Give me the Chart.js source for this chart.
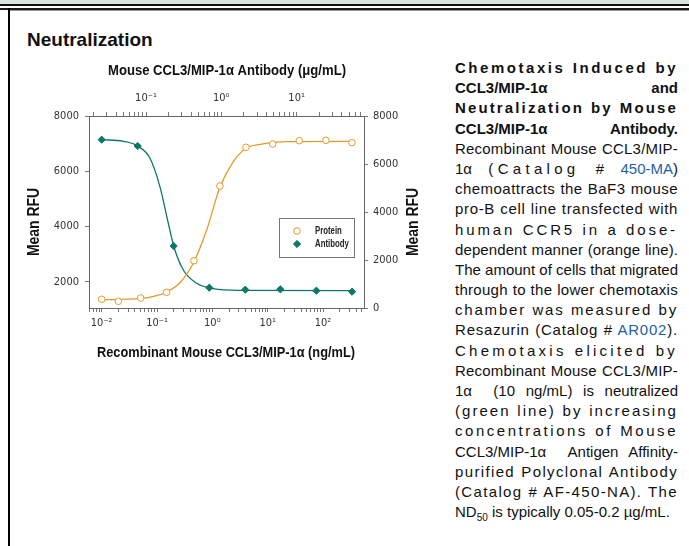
<!DOCTYPE html>
<html><head><meta charset="utf-8">
<script src="https://cdn.jsdelivr.net/npm/chart.js@4.4.1/dist/chart.umd.min.js"></script>
<style>
html,body{margin:0;padding:0;background:#fff;}
body{width:689px;height:546px;position:relative;overflow:hidden;font-family:'Liberation Sans',Arial,sans-serif;}
#band{position:absolute;left:0;top:0;width:689px;height:4px;background:#d8e5e1;}
#l1{position:absolute;left:0;top:4px;width:689px;height:2px;background:#111;}
#l2{position:absolute;left:0;top:8px;width:689px;height:2px;background:#1a1a1a;}
#l3{position:absolute;left:8px;top:10px;width:681px;height:1px;background:#999;}
#lb{position:absolute;left:8px;top:8px;width:2px;height:538px;background:#000;}
#title{position:absolute;left:27px;top:30px;font:bold 19px/19px 'Liberation Sans',Arial,sans-serif;color:#111;white-space:nowrap;}
#wrap{position:absolute;left:0;top:0;width:440px;height:380px;}
#desc{position:absolute;left:455px;top:58px;width:223px;font-size:15px;line-height:20.2px;color:#111;}
#desc .ln{height:20.2px;white-space:nowrap;text-align:justify;text-align-last:justify;}
#desc .b{font-weight:bold;}
#desc .last{text-align:left;text-align-last:left;}
#desc a{color:#1f5fa6;text-decoration:none;}
#desc sub{font-size:10px;vertical-align:-4px;line-height:0;}
</style></head>
<body>
<div id="band"></div><div id="l1"></div><div id="l2"></div><div id="l3"></div><div id="lb"></div>
<div id="title">Neutralization</div>
<div id="wrap"><canvas id="c" width="440" height="380"></canvas></div>
<div id="desc">
<div class="ln b sp">Chemotaxis Induced by</div>
<div class="ln b">CCL3/MIP-1α and</div>
<div class="ln b sp">Neutralization by Mouse</div>
<div class="ln b">CCL3/MIP-1α Antibody.</div>
<div class="ln sp">Recombinant Mouse CCL3/MIP-</div>
<div class="ln">1α <span style="letter-spacing:4.3px">(Catalog</span> # <a>450-MA</a>)</div>
<div class="ln sp">chemoattracts the BaF3 mouse</div>
<div class="ln sp">pro-B cell line transfected with</div>
<div class="ln sp">human CCR5 in a dose-</div>
<div class="ln sp">dependent manner (orange line).</div>
<div class="ln sp">The amount of cells that migrated</div>
<div class="ln sp">through to the lower chemotaxis</div>
<div class="ln sp">chamber was measured by</div>
<div class="ln sp">Resazurin (Catalog # <a>AR002</a>).</div>
<div class="ln sp">Chemotaxis elicited by</div>
<div class="ln sp">Recombinant Mouse CCL3/MIP-</div>
<div class="ln">1α &nbsp;(10 ng/mL) is neutralized</div>
<div class="ln sp">(green line) by increasing</div>
<div class="ln sp">concentrations of Mouse</div>
<div class="ln">CCL3/MIP-1α &nbsp;Antigen Affinity-</div>
<div class="ln sp">purified Polyclonal Antibody</div>
<div class="ln sp">(Catalog # AF-450-NA). The</div>
<div class="ln last">ND<sub>50</sub> is typically 0.05-0.2 µg/mL.</div>
</div>
<script>
// ---- data ----
const seriesNames = ['Protein', 'Antibody'];
const proteinConc = [0.010, 0.020, 0.0507, 0.149, 0.465, 1.37, 4.05, 12.3, 37.2, 113, 333];      // ng/mL
const proteinRFU  = [1365, 1292, 1412, 1618, 2762, 5466, 6867, 6986, 7106, 7120, 7033];
const antibodyConc = [0.0258, 0.0776, 0.233, 0.693, 2.08, 6.08, 18.3, 54.5];                   // µg/mL
const antibodyRFU  = [7013, 6750, 2583, 846, 763, 779, 721, 679];
const proteinFitConc = [0.010, 0.0492, 0.0986, 0.149, 0.260, 0.452, 0.789, 1.37, 2.39, 4.05, 7.24, 22.0, 352];
const proteinFitRFU  = [1350, 1386, 1495, 1629, 1965, 2668, 3873, 5419, 6346, 6831, 6976, 7070, 7084];
const antibodyFitConc = [0.0258, 0.050, 0.0776, 0.113, 0.153, 0.198, 0.233, 0.313, 0.471, 0.783, 1.77, 54.5];
const antibodyFitRFU  = [7013, 6946, 6750, 6237, 5055, 3529, 2583, 1583, 1029, 804, 737, 725];
const leftTicks = [2000, 4000, 6000, 8000];
const rightTicks = [0, 2000, 4000, 6000, 8000];
const bottomDecades = [0.01, 0.1, 1, 10, 100];
const topDecades = [0.1, 1, 10];
const xBottomTitle = 'Recombinant Mouse CCL3/MIP-1α (ng/mL)';
const xTopTitle = 'Mouse CCL3/MIP-1α Antibody (μg/mL)';
const yTitle = 'Mean RFU';

const NARROW = "'Liberation Sans Narrow','DejaVu Sans Condensed','Arial Narrow',sans-serif";
const SANS = "'Liberation Sans',Arial,sans-serif";
const ORANGE = '#e59a2b', TEAL = '#0b7768';
const zip = (xs, ys) => xs.map((x, i) => ({x, y: ys[i]}));
const SUP = {'-': '⁻', '0': '⁰', '1': '¹', '2': '²', '3': '³'};
const powLabel = v => '10' + String(Math.round(Math.log10(v))).split('').map(c => SUP[c]).join('');
const isIn = (v, list) => list.some(d => Math.abs(Math.log10(v) - Math.log10(d)) < 1e-6);
function logTicks(min, max) {
  const t = [];
  for (let e = -4; e <= 4; e++) for (let m = 1; m <= 9; m++) {
    const v = m * Math.pow(10, e);
    if (v >= min && v <= max) t.push({value: v});
  }
  return t;
}
const tickFont = {family: NARROW, size: 11};

// draws text condensed horizontally to a given length (the original uses a condensed face)
function condensedText(ctx, text, cx, cy, len, font, rot) {
  ctx.save();
  ctx.font = font; ctx.fillStyle = '#111'; ctx.textAlign = 'center'; ctx.textBaseline = 'middle';
  ctx.translate(cx, cy); if (rot) ctx.rotate(rot);
  const w = ctx.measureText(text).width;
  ctx.scale(len / w, 1);
  ctx.fillText(text, 0, 0);
  ctx.restore();
}

const overlay = {
  id: 'overlay',
  afterDraw(chart) {
    const {ctx} = chart;
    condensedText(ctx, xTopTitle, 227, 71, 238, 'bold 15.5px ' + SANS);
    condensedText(ctx, xBottomTitle, 226, 353, 258, 'bold 15.5px ' + SANS);
    condensedText(ctx, yTitle, 35, 222, 68, 'bold 16px ' + SANS, -Math.PI / 2);
    condensedText(ctx, yTitle, 414, 222, 68, 'bold 16px ' + SANS, -Math.PI / 2);
    // legend box
    ctx.save();
    ctx.fillStyle = '#fff'; ctx.fillRect(279, 218, 75, 39);
    ctx.strokeStyle = '#777'; ctx.lineWidth = 1; ctx.strokeRect(279.5, 218.5, 75, 39);
    chart.data.datasets.filter(d => d.inLegend).forEach((d, i) => {
      const y = 231 + i * 13;
      ctx.fillStyle = d.pointBackgroundColor; ctx.strokeStyle = d.pointBorderColor; ctx.lineWidth = d.pointBorderWidth;
      Chart.helpers.drawPoint(ctx, {pointStyle: d.pointStyle, radius: d.pointRadius, borderWidth: d.pointBorderWidth, rotation: 0}, 297, y);
      ctx.save();
      ctx.fillStyle = '#222'; ctx.font = 'bold 10px ' + SANS; ctx.textAlign = 'left'; ctx.textBaseline = 'middle';
      ctx.translate(315, y); ctx.scale(0.78, 1); ctx.fillText(d.label, 0, 0);
      ctx.restore();
    });
    ctx.restore();
  }
};

new Chart(document.getElementById('c'), {
  type: 'scatter',
  data: {
    datasets: [
      {label: seriesNames[0], inLegend: true, data: zip(proteinConc, proteinRFU), xAxisID: 'x', yAxisID: 'y',
       pointStyle: 'circle', pointRadius: 3.3, pointBorderWidth: 1, pointBorderColor: ORANGE, pointBackgroundColor: '#fff', showLine: false},
      {label: seriesNames[1], inLegend: true, data: zip(antibodyConc, antibodyRFU), xAxisID: 'x2', yAxisID: 'y2',
       pointStyle: 'rectRot', pointRadius: 3.6, pointBorderWidth: 1, pointBorderColor: TEAL, pointBackgroundColor: TEAL, showLine: false},
      {label: '', data: zip(proteinFitConc, proteinFitRFU), xAxisID: 'x', yAxisID: 'y', showLine: true,
       pointRadius: 0, borderColor: ORANGE, borderWidth: 1.3, cubicInterpolationMode: 'monotone'},
      {label: '', data: zip(antibodyFitConc, antibodyFitRFU), xAxisID: 'x2', yAxisID: 'y2', showLine: true,
       pointRadius: 0, borderColor: TEAL, borderWidth: 1.3, cubicInterpolationMode: 'monotone'}
    ]
  },
  options: {
    responsive: false, animation: false, devicePixelRatio: 1,
    layout: {padding: 0},
    plugins: {legend: {display: false}, tooltip: {enabled: false}},
    scales: {
      x: {type: 'logarithmic', position: 'bottom', min: 0.0059, max: 550,
        afterFit(s) { s.height = 72; },
        afterBuildTicks(s) { s.ticks = logTicks(s.min, s.max); },
        ticks: {autoSkip: false, maxRotation: 0, padding: 5, color: '#333', font: tickFont,
          callback: v => isIn(v, bottomDecades) ? powLabel(v) : ''},
        grid: {drawOnChartArea: false, drawTicks: true, tickLength: 4, color: '#777'},
        border: {display: true, color: '#666'},
        title: {display: false}},
      x2: {type: 'logarithmic', position: 'top', min: 0.0175, max: 78.5,
        afterFit(s) { s.height = 116; },
        afterBuildTicks(s) { s.ticks = logTicks(s.min, s.max); },
        ticks: {autoSkip: false, maxRotation: 0, padding: 7, color: '#333', font: tickFont,
          callback: v => isIn(v, topDecades) ? powLabel(v) : ''},
        grid: {drawOnChartArea: false, drawTicks: true, tickLength: 4, color: '#777'},
        border: {display: true, color: '#666'},
        title: {display: false}},
      y: {type: 'linear', position: 'left', min: 1050, max: 8000,
        afterFit(s) { s.width = 89; },
        afterBuildTicks(s) { s.ticks = leftTicks.map(v => ({value: v})); },
        ticks: {padding: 6, color: '#333', font: tickFont, callback: v => String(v)},
        grid: {drawOnChartArea: false, drawTicks: true, tickLength: 4, color: '#777'},
        border: {display: true, color: '#666'},
        title: {display: false}},
      y2: {type: 'linear', position: 'right', min: 0, max: 8000,
        afterFit(s) { s.width = 76; },
        afterBuildTicks(s) { s.ticks = rightTicks.map(v => ({value: v})); },
        ticks: {padding: 5, color: '#333', font: tickFont, callback: v => String(v)},
        grid: {drawOnChartArea: false, drawTicks: true, tickLength: 4, color: '#777'},
        border: {display: true, color: '#666'},
        title: {display: false}}
    }
  },
  plugins: [overlay]
});

// justify paragraph lines (letter-spread where the original spreads letters)
function layoutText() {
  document.querySelectorAll('#desc .sp').forEach(el => {
    const W = el.clientWidth;
    el.style.textAlign = 'left'; el.style.textAlignLast = 'left'; el.style.letterSpacing = '0px';
    const r = document.createRange(); r.selectNodeContents(el);
    const w = r.getBoundingClientRect().width;
    const n = el.textContent.trim().length;
    const ls = Math.max(0, (W - 1.5 - w) / n);
    el.style.letterSpacing = ls.toFixed(3) + 'px';
    el.style.textAlign = 'justify'; el.style.textAlignLast = 'justify';
  });
}
layoutText();
</script>
</body></html>
